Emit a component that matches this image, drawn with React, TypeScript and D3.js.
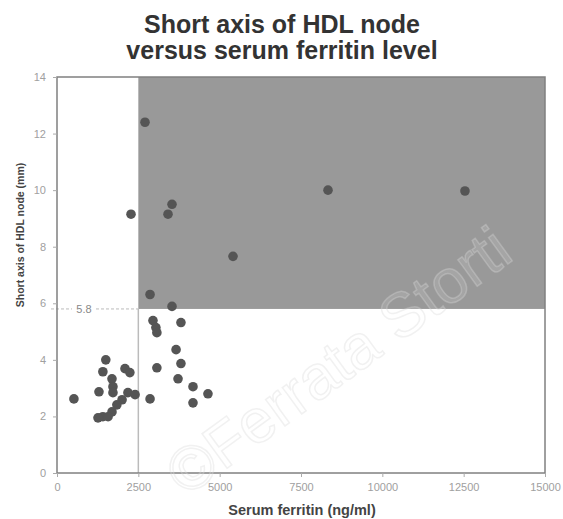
import { useEffect, useRef } from 'react';
import * as d3 from 'd3';

// Serum ferritin (ng/ml) vs short axis of HDL node (mm)
const ferritin = [
  520, 1290, 1500, 1410, 2090, 2240, 1690, 1720, 1720, 2180, 2400, 2000, 1840, 1690,
  1410, 1260, 1570, 2860, 3070, 2950, 3040, 3070, 3810, 3660, 3810, 3720, 4180, 4640,
  4180, 2860, 3535, 2275, 2705, 3535, 3412, 5410, 8330, 12540,
];
const shortAxis = [
  2.62, 2.87, 4.0, 3.58, 3.69, 3.55, 3.33, 3.05, 2.84, 2.84, 2.77, 2.59, 2.41, 2.16,
  1.99, 1.95, 1.99, 2.62, 3.72, 5.39, 5.14, 4.96, 5.32, 4.36, 3.87, 3.33, 3.05, 2.8,
  2.48, 6.31, 5.89, 9.15, 12.4, 9.5, 9.15, 7.66, 10.0, 9.97,
];
const xTicks = [0, 2500, 5000, 7500, 10000, 12500, 15000];
const yTicks = [0, 2, 4, 6, 8, 10, 12, 14];
const ferritinCut = 2500;
const axisCut = 5.8;

const titleLines = ['Short axis of HDL node', 'versus serum ferritin level'];

export default function App() {
  const svgRef = useRef<SVGSVGElement>(null);
  const width = 563;
  const height = 519;

  useEffect(() => {
    if (!svgRef.current) return;
    const svg = d3.select(svgRef.current);
    svg.selectAll('*').remove();

    const margin = { top: 77, right: 18, bottom: 46, left: 57 };
    const innerWidth = width - margin.left - margin.right;
    const innerHeight = height - margin.top - margin.bottom;
    const font = '"Liberation Sans", Arial, sans-serif';

    const x = d3.scaleLinear().domain([0, 15000]).range([0, innerWidth]);
    const y = d3.scaleLinear().domain([0, 14]).range([innerHeight, 0]);

    svg.append('rect').attr('width', width).attr('height', height).attr('fill', '#fff');

    // title
    const title = svg.append('text')
      .attr('x', 282)
      .attr('y', 33)
      .attr('text-anchor', 'middle')
      .style('font-family', font)
      .style('font-weight', 'bold')
      .style('font-size', '25px')
      .style('fill', '#333');
    titleLines.forEach((line, i) => {
      title.append('tspan').attr('x', 282).attr('dy', i === 0 ? 0 : 26).text(line);
    });

    const g = svg.append('g').attr('transform', `translate(${margin.left},${margin.top})`);

    // shaded quadrant (high ferritin, large node)
    g.append('rect')
      .attr('x', x(ferritinCut))
      .attr('y', y(14))
      .attr('width', x(15000) - x(ferritinCut))
      .attr('height', y(axisCut) - y(14))
      .attr('fill', '#999');

    // cut-off guides
    g.append('line')
      .attr('x1', x(ferritinCut)).attr('x2', x(ferritinCut))
      .attr('y1', y(axisCut)).attr('y2', innerHeight)
      .attr('stroke', '#bbb').attr('stroke-width', 1.5);
    g.append('line')
      .attr('x1', -6).attr('x2', x(ferritinCut))
      .attr('y1', y(axisCut)).attr('y2', y(axisCut))
      .attr('stroke', '#bbb').attr('stroke-width', 1).attr('stroke-dasharray', '3,2');
    g.append('rect')
      .attr('x', 15).attr('y', y(axisCut) - 7).attr('width', 24).attr('height', 14)
      .attr('fill', '#fff');
    g.append('text')
      .attr('x', 27).attr('y', y(axisCut) + 4)
      .attr('text-anchor', 'middle')
      .style('font-family', font)
      .style('font-size', '11px')
      .style('fill', '#888')
      .text('5.8');

    // watermark
    svg.append('text')
      .attr('transform', 'translate(186,498) rotate(-36)')
      .style('font-family', font)
      .style('font-size', '62px')
      .style('fill', '#fff')
      .style('fill-opacity', 0.12)
      .style('stroke', '#d8d8d8')
      .style('stroke-width', 1.5)
      .style('stroke-opacity', 0.35)
      .text('©Ferrata Storti');

    // points
    g.selectAll('.pt')
      .data(ferritin.map((f, i) => ({ f, s: shortAxis[i] })))
      .join('circle')
      .attr('class', 'pt')
      .attr('cx', d => x(d.f))
      .attr('cy', d => y(d.s))
      .attr('r', 4.8)
      .attr('fill', '#555');

    // frame
    g.append('rect')
      .attr('width', innerWidth)
      .attr('height', innerHeight)
      .attr('fill', 'none')
      .attr('stroke', '#808080')
      .attr('stroke-width', 1.5);

    // axes
    const xAxis = d3.axisBottom(x).tickValues(xTicks).tickSize(4).tickPadding(6)
      .tickFormat(d => String(d));
    const yAxis = d3.axisLeft(y).tickValues(yTicks).tickSize(4).tickPadding(7)
      .tickFormat(d => String(d));

    g.append('g')
      .attr('class', 'x-axis')
      .attr('transform', `translate(0,${innerHeight})`)
      .call(xAxis);
    g.append('g')
      .attr('class', 'y-axis')
      .call(yAxis);

    g.selectAll('.x-axis path, .y-axis path').remove();
    g.selectAll('.x-axis line, .y-axis line').style('stroke', '#aaa');
    g.selectAll('.x-axis text, .y-axis text')
      .style('fill', '#a0a0a0')
      .style('font-family', font)
      .style('font-size', '11px');

    // axis labels
    svg.append('text')
      .attr('x', 302)
      .attr('y', 515)
      .attr('text-anchor', 'middle')
      .style('font-family', font)
      .style('font-weight', 'bold')
      .style('font-size', '14.5px')
      .style('fill', '#444')
      .text('Serum ferritin (ng/ml)');

    svg.append('text')
      .attr('transform', `translate(24,235) rotate(-90)`)
      .attr('text-anchor', 'middle')
      .style('font-family', font)
      .style('font-weight', 'bold')
      .style('font-size', '10.5px')
      .style('fill', '#444')
      .text('Short axis of HDL node (mm)');
  }, []);

  return (
    <svg
      ref={svgRef}
      width={width}
      height={height}
      style={{ position: 'absolute', left: 0, top: 0, display: 'block' }}
    />
  );
}
